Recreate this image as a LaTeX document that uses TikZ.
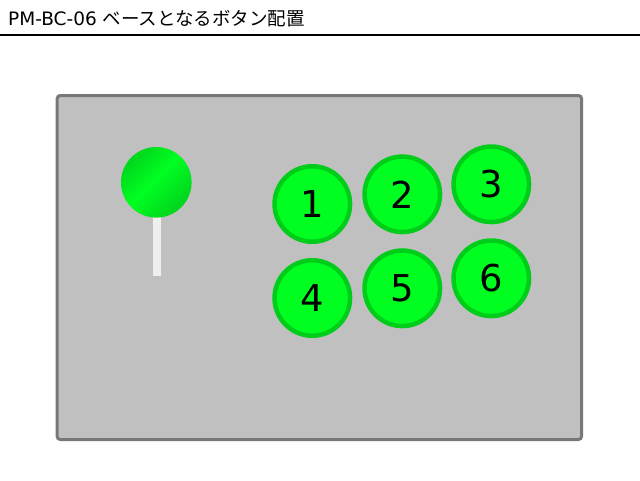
\documentclass[tikz,border=0pt]{standalone}
\usepackage{fontspec}
\setmainfont{DejaVu Sans}
\newfontfamily\jpfont{Noto Sans CJK JP}
\usetikzlibrary{positioning}

\definecolor{panelgray}{HTML}{C0C0C0}
\definecolor{framegray}{HTML}{777777}
\definecolor{btnfill}{HTML}{00FF21}
\definecolor{btnedge}{HTML}{00CC1A}
\definecolor{balldark}{HTML}{00AA18}
\definecolor{stickgray}{HTML}{EFEFEF}

% diagonal shading of the lever ball
\pgfdeclareverticalshading{leverball}{100bp}{color(0bp)=(balldark); color(52bp)=(btnfill); color(100bp)=(balldark)}

\begin{document}
\begin{tikzpicture}[x=1pt,y=-1pt,
  button/.style={circle,draw=btnedge,fill=btnfill,line width=4.5pt,minimum size=75.5pt,inner sep=0pt,font=\fontsize{37}{37}\selectfont},
  lever/.style={circle,minimum size=70.6pt,inner sep=0pt,shading=leverball,shading angle=45}]
\useasboundingbox (0,0) rectangle (640,480);

% title
\node[anchor=base west,inner sep=0pt,font=\fontsize{18.5}{18.5}\selectfont] (title) at (8,25) {PM-BC-06 {\jpfont ベースとなるボタン配置}};
\draw[line width=2pt] (0,35) -- (640,35);

% panel
\draw[framegray,fill=panelgray,line width=3pt,rounded corners=3pt] (57.2,95.5) rectangle (581.5,439.5);

% lever
\fill[stickgray] (153,216) rectangle (161,276);
\node[lever] (ball) at (156.3,182.3) {};

% buttons
\node[button] (b1) at (312.3,204) {1};
\node[button] (b2) at (402.3,194.3) {2};
\node[button] (b3) at (491.3,184.3) {3};
\node[button] (b4) at (312.3,298) {4};
\node[button] (b5) at (402.3,288.3) {5};
\node[button] (b6) at (491.3,278.3) {6};

\end{tikzpicture}
\end{document}
